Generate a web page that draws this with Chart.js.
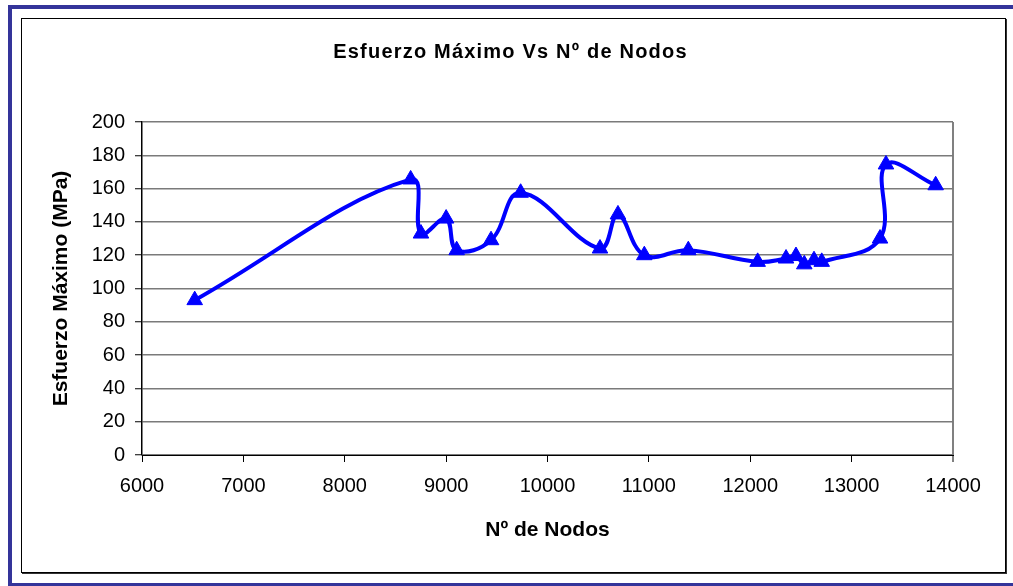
<!DOCTYPE html>
<html lang="es">
<head>
<meta charset="utf-8">
<title>Esfuerzo Máximo Vs Nº de Nodos</title>
<script src="https://cdn.jsdelivr.net/npm/chart.js@4/dist/chart.umd.min.js"></script>
<style>
  html, body { margin: 0; padding: 0; background: #fff; overflow: hidden; }
  .marco-azul {
    position: absolute; left: 8px; top: 5px;
    width: 1020px; height: 574px;
    border-left: 4px solid #34349a; border-top: 4px solid #34349a; border-bottom: 4px solid #34349a;
  }
  .marco-grafico {
    position: absolute; left: 21px; top: 18px;
    width: 983px; height: 553px;
    border: 1px solid #000;
    box-shadow: 1px 1px 0 #333;
    background: #fff;
  }
  .marco-grafico canvas { display: block; }
</style>
</head>
<body>
<div class="marco-azul"></div>
<div class="marco-grafico">
  <canvas id="graficoEsfuerzo" width="983" height="553"></canvas>
</div>
<script>
// Datos: número de nodos de la malla y esfuerzo máximo obtenido (MPa)
const nodos = [6520, 8650, 8752, 9000, 9104, 9443, 9735, 10518, 10695, 10955,
               11389, 12073, 12353, 12451, 12533, 12629, 12705, 13280, 13339, 13829];
const esfuerzo = [93, 165.5, 133, 142, 123, 129, 157.5, 124, 144.5, 120,
                  123, 116, 118, 119.5, 114.5, 117, 116, 130, 174.5, 162];
const ticksX = [6000, 7000, 8000, 9000, 10000, 11000, 12000, 13000, 14000];
const ticksY = [0, 20, 40, 60, 80, 100, 120, 140, 160, 180, 200];

const titulo = 'Esfuerzo Máximo Vs Nº de Nodos';
const tituloX = 'Nº de Nodos';
const tituloY = 'Esfuerzo Máximo (MPa)';

const fuente = '"Liberation Sans", Arial, Helvetica, sans-serif';

// Título con el espaciado de letras ancho, dibujado a mano
const tituloPlugin = {
  id: 'tituloEspaciado',
  afterDraw(chart) {
    const ctx = chart.ctx;
    ctx.save();
    ctx.font = 'bold 20px ' + fuente;
    ctx.letterSpacing = '1.2px';
    ctx.fillStyle = '#000';
    ctx.textAlign = 'center';
    ctx.textBaseline = 'middle';
    ctx.fillText(titulo, chart.width / 2 - 3, 33);
    ctx.restore();
  }
};

const puntos = nodos.map((n, i) => ({ x: n, y: esfuerzo[i] }));

new Chart(document.getElementById('graficoEsfuerzo'), {
  type: 'scatter',
  data: {
    datasets: [{
      label: 'Esfuerzo',
      data: puntos,
      showLine: true,
      borderColor: '#0000ff',
      backgroundColor: '#0000ff',
      borderWidth: 4,
      tension: 0.4,
      pointStyle: 'triangle',
      pointRadius: 9,
      pointBorderWidth: 1,
      pointBackgroundColor: '#0000ff',
      pointBorderColor: '#0000ff'
    }]
  },
  options: {
    responsive: false,
    animation: false,
    layout: { padding: { left: 0, top: 103, right: 52, bottom: 0 } },
    plugins: {
      legend: { display: false },
      title: { display: false },
      tooltip: { enabled: false }
    },
    scales: {
      x: {
        type: 'linear',
        min: ticksX[0],
        max: ticksX[ticksX.length - 1],
        afterBuildTicks: s => { s.ticks = ticksX.map(v => ({ value: v })); },
        afterFit: s => { s.height = 117; },
        ticks: {
          color: '#000', padding: 12,
          font: { family: fuente, size: 20 },
          callback: v => String(v)
        },
        grid: {
          color: c => (c.tick && c.tick.value === 14000) ? '#808080' : 'rgba(0,0,0,0)',
          lineWidth: c => (c.tick && c.tick.value === 14000) ? 2 : 1,
          tickColor: '#000',
          tickLength: 7,
          tickWidth: 1
        },
        border: { color: '#000', width: 1 },
        title: {
          display: true,
          text: tituloX,
          color: '#000',
          padding: { top: 0, bottom: 29 },
          font: { family: fuente, size: 21, weight: 'bold' }
        }
      },
      y: {
        min: ticksY[0],
        max: ticksY[ticksY.length - 1],
        afterBuildTicks: s => { s.ticks = ticksY.map(v => ({ value: v })); },
        afterFit: s => { s.width = 120; },
        ticks: {
          color: '#000', padding: 10,
          font: { family: fuente, size: 20 },
          callback: v => String(v)
        },
        grid: {
          color: '#7a7a7a',
          lineWidth: 1.5,
          tickColor: '#000',
          tickLength: 7,
          tickWidth: 1
        },
        border: { color: '#000', width: 1.5 },
        title: {
          display: true,
          text: tituloY,
          color: '#000',
          padding: { top: 27, bottom: 0 },
          font: { family: fuente, size: 21, weight: 'bold' }
        }
      }
    }
  },
  plugins: [tituloPlugin]
});
</script>
</body>
</html>
